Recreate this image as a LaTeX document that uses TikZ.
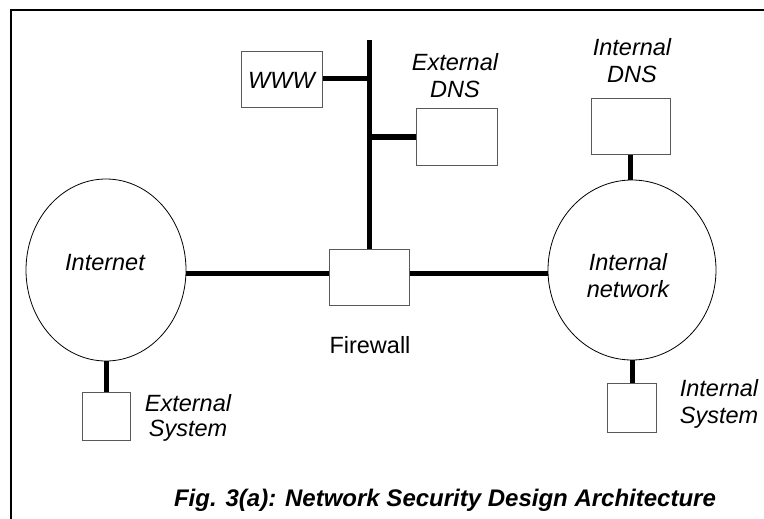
\documentclass[tikz,border=0pt]{standalone}
\usepackage{fontspec}
\setmainfont{Liberation Sans}
\usetikzlibrary{shapes.geometric}
\begin{document}
\begin{tikzpicture}[x=1pt,y=-1pt,
  box/.style={draw=black!65,line width=1pt,fill=white,inner sep=0pt,minimum width=#1},
  cloud/.style={draw=black,line width=0.8pt,ellipse,inner sep=0pt},
  link/.style={line width=5pt},
  lbl/.style={font=\fontsize{23.5}{27}\selectfont\itshape,align=center,inner sep=0pt},
  frameline/.style={line width=1.5pt}]
\useasboundingbox (0,0) rectangle (764,519);
% frame
\coordinate (fbl) at (11,519);
\coordinate (ftl) at (11,10);
\coordinate (ftr) at (764,10);
\draw[frameline] (fbl) -- (ftl) -- (ftr);
% clouds
\node[cloud,minimum width=160,minimum height=182] (inet) at (106,270) {};
\node[cloud,minimum width=168,minimum height=180] (intnet) at (632,270) {};
% boxes
\node[box=81,minimum height=56] (www) at (281.5,80) {};
\node[box=81,minimum height=56] (edns) at (456.5,137) {};
\node[box=79,minimum height=55] (idns) at (630.5,126.5) {};
\node[box=80,minimum height=56] (fw) at (369,277) {};
\node[box=48,minimum height=48] (esys) at (106,416) {};
\node[box=49,minimum height=49] (isys) at (631.5,407.5) {};
\coordinate (bustop) at (369,40);
% connectors
\draw[link] (bustop) -- (fw.north);
\draw[link] ([yshift=1pt]www.east) -- ([yshift=1pt]www.east -| bustop);
\draw[link] (edns.west -| bustop) -- (edns.west);
\draw[link] ([yshift=4pt]fw.west) -- ([yshift=4pt]fw.west -| inet.east);
\draw[link] ([yshift=4pt]fw.east) -- ([yshift=4pt]fw.east -| intnet.west);
\draw[link] (inet.south) -- (esys.north);
\draw[link] (intnet.south) -- (intnet.south |- isys.north);
\draw[link] (idns.south) -- (idns.south |- intnet.north);
% labels
\node[lbl] (twww) at (www) {WWW};
\node[lbl] (tedns) at (455,76) {External\\DNS};
\node[lbl] (tidns) at (632,61) {Internal\\DNS};
\node[lbl] (tinet) at (105,263) {Internet};
\node[lbl] (tintnet) at (628,276) {Internal\\network};
\node[lbl,font=\fontsize{23.5}{27}\selectfont] (tfw) at (370,345) {Firewall};
\node[lbl,font=\fontsize{23.5}{25}\selectfont\itshape] (tesys) at (188,418) {External\\System};
\node[lbl] (tisys) at (719,404) {Internal\\System};
\node[inner sep=0pt,font=\fontsize{24}{28}\selectfont\bfseries\itshape] (cap) at (445,500) {Fig. 3(a): Network Security Design Architecture};
\end{tikzpicture}
\end{document}
